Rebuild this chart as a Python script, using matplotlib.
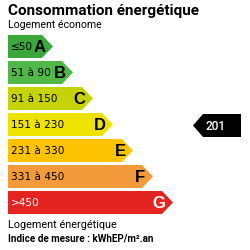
import matplotlib
matplotlib.use("Agg")
import matplotlib.pyplot as plt
from matplotlib.patches import Polygon

# chart data
classes = ["A", "B", "C", "D", "E", "F", "G"]
ranges = ["≤50", "51 à 90", "91 à 150", "151 à 230", "231 à 330", "331 à 450", ">450"]
upper_bounds = [50, 90, 150, 230, 330, 450, float("inf")]
colors = ["#3aa83d", "#50b848", "#c6d300", "#eee300", "#fdc300", "#f39b3b", "#e42420"]
text_colors = ["black", "black", "black", "black", "black", "black", "white"]
value = 201

title = "Consommation énergétique"
top_note = "Logement économe"
bottom_note = "Logement énergétique"
unit_note = "Indice de mesure : kWhEP/m².an"

fig = plt.figure(figsize=(2.5, 2.5), dpi=100)
ax = fig.add_axes([0, 0, 1, 1])
ax.set_xlim(0, 250)
ax.set_ylim(250, 0)
ax.axis("off")

# layout in pixels
left = 8
top = 35
height = 23
pitch = 26
first_tip = 53
step = 20
point = 11

for i, (cls, rng, col, tc) in enumerate(zip(classes, ranges, colors, text_colors)):
    y0 = top + i * pitch
    y1 = y0 + height
    ym = (y0 + y1) / 2
    tip = first_tip + i * step
    ax.add_patch(Polygon([(left, y0), (tip - point, y0), (tip, ym),
                          (tip - point, y1), (left, y1)],
                         closed=True, facecolor=col, edgecolor="none"))
    ax.text(left + 3, ym + 1, rng, ha="left", va="center", fontsize=7.6,
            family="DejaVu Sans", color=tc)
    ax.text(tip - 7.5, ym + 0.5, cls, ha="right", va="center", fontsize=12,
            family="Liberation Sans", weight="bold", color=tc)

# indicator arrow on the matching class row
row = next(i for i, ub in enumerate(upper_bounds) if value <= ub)
y0 = top + row * pitch + 1
y1 = y0 + height
ym = (y0 + y1) / 2
ax.add_patch(Polygon([(193, ym), (203, y0), (241, y0), (241, y1), (203, y1)],
                     closed=True, facecolor="black", edgecolor="none"))
ax.text(215.5, ym + 0.5, str(value), ha="center", va="center", fontsize=8.5,
        family="Roboto", weight="medium", color="white")

ax.text(left, 11, title, ha="left", va="center", fontsize=11,
        family="Roboto", weight="bold", color="black")
ax.text(left, 25, top_note, ha="left", va="center", fontsize=7.6,
        family="Roboto", color="black")
ax.text(left, 225, bottom_note, ha="left", va="center", fontsize=7.8,
        family="Roboto", color="black")
ax.text(left, 238, unit_note, ha="left", va="center", fontsize=7.1,
        family="Roboto", weight="bold", color="black")

fig.savefig("out.png", dpi=100, facecolor="white")
